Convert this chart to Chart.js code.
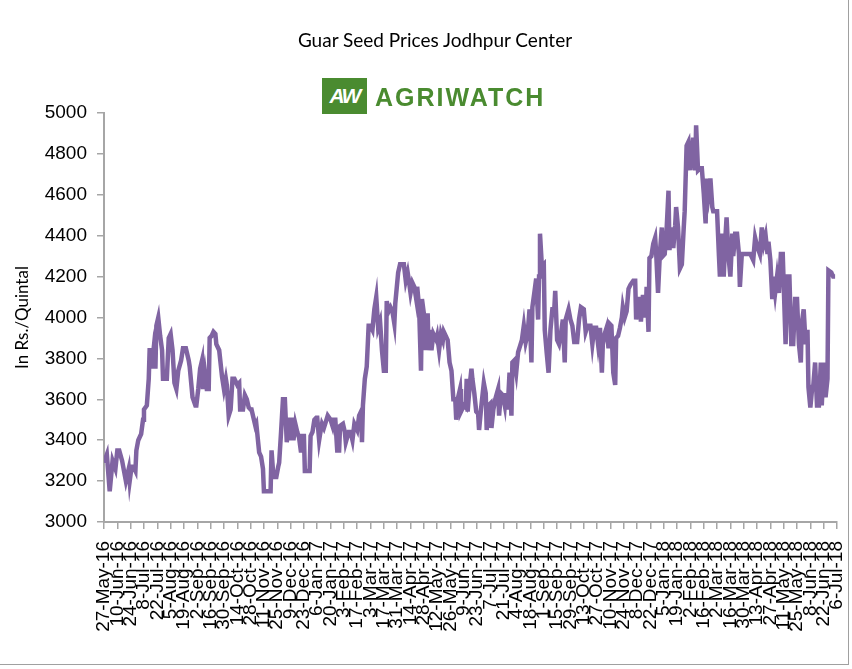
<!DOCTYPE html>
<html>
<head>
<meta charset="utf-8">
<title>Guar Seed Prices Jodhpur Center</title>
<script src="https://cdn.jsdelivr.net/npm/chart.js"></script>
<style>
  body { margin: 0; background: #fff; }
  #wrap { position: relative; width: 852px; height: 669px; }
  #frame { position: absolute; left: 0; top: 0; width: 848px; height: 664px; border-right: 1px solid #a0a0a0; border-bottom: 1px solid #a0a0a0; }
  #chart { position: absolute; left: 0; top: 0; }
  #title { position: absolute; left: 0; width: 870px; top: 28px; text-align: center; font: 19px Lato, sans-serif; color: #000; }
  #logo-box { position: absolute; left: 322px; top: 78px; width: 45px; height: 36px; background: #4a8b30; color: #fff;
    font: italic bold 21px "Liberation Sans", Arial, sans-serif; text-align: center; line-height: 36px; letter-spacing: -2px; }
  #logo-text { position: absolute; left: 375px; top: 83px; font: bold 25px "Liberation Sans", Arial, sans-serif; color: #4a8b30; letter-spacing: 2px; }
</style>
</head>
<body>
<div id="wrap">
  <div id="frame"></div>
  <canvas id="chart" width="852" height="669"></canvas>
  <div id="title">Guar Seed Prices Jodhpur Center</div>
  <div id="logo-box">AW</div>
  <div id="logo-text">AGRIWATCH</div>
</div>
<script>
// x positions are days counted from 27-May-16
const days = [
  0, 3, 6, 9, 12, 14, 16, 19, 21, 23, 26, 27, 29, 31, 33, 34, 36, 39, 41, 42,
  45, 47, 48, 50, 52, 54, 55, 57, 59, 61, 62, 66, 68, 70, 72, 74, 76, 78, 81, 83,
  86, 89, 90, 93, 96, 97, 99, 101, 103, 104, 106, 108, 110, 111, 113, 115, 117, 118, 121, 124,
  126, 128, 129, 131, 133, 135, 137, 140, 142, 143, 146, 148, 150, 152, 154, 155, 157, 159, 160, 163,
  165, 167, 168, 175, 176, 178, 181, 183, 184, 186, 188, 190, 192, 194, 196, 198, 199, 201, 203, 205,
  207, 208, 210, 211, 216, 217, 219, 221, 223, 224, 226, 227, 229, 231, 233, 235, 238, 240, 241, 243,
  245, 247, 248, 251, 253, 254, 257, 259, 261, 263, 266, 268, 270, 271, 272, 274, 276, 278, 280, 282,
  284, 286, 288, 290, 292, 294, 296, 297, 299, 301, 303, 305, 306, 309, 311, 315, 317, 319, 320, 322,
  324, 326, 328, 329, 331, 333, 334, 336, 338, 340, 341, 343, 344, 346, 349, 350, 352, 354, 356, 357,
  359, 361, 363, 365, 367, 369, 370, 372, 374, 375, 378, 380, 381, 382, 384, 386, 387, 389, 391, 393,
  394, 396, 399, 401, 402, 404, 406, 407, 409, 411, 414, 415, 417, 419, 421, 422, 424, 426, 428, 429,
  431, 433, 435, 437, 439, 441, 443, 445, 447, 449, 450, 452, 454, 456, 457, 458, 460, 462, 463, 465,
  467, 469, 471, 473, 474, 476, 478, 480, 482, 484, 485, 488, 490, 492, 494, 497, 499, 501, 504, 506,
  508, 511, 513, 515, 517, 519, 521, 523, 524, 526, 528, 530, 531, 533, 535, 537, 538, 540, 542, 544,
  545, 547, 549, 551, 553, 556, 558, 559, 561, 563, 564, 566, 567, 569, 570, 572, 573, 575, 577, 579,
  580, 582, 584, 586, 587, 589, 591, 593, 594, 596, 598, 600, 601, 603, 605, 607, 609, 610, 612, 614,
  616, 617, 618, 619, 621, 622, 624, 626, 628, 630, 632, 633, 635, 637, 639, 640, 644, 646, 647, 649,
  651, 653, 654, 656, 658, 660, 661, 663, 665, 667, 668, 670, 672, 675, 679, 682, 684, 686, 689, 691,
  693, 695, 697, 698, 700, 702, 703, 705, 707, 709, 711, 713, 716, 718, 720, 722, 724, 726, 728, 730,
  732, 733, 735, 737, 739, 740, 742, 744, 745, 747, 749, 751, 753, 754, 756, 758, 760, 761, 764, 766,
  768
];

const prices = [
  3290, 3330, 3150, 3300, 3260, 3350, 3350, 3300, 3250, 3200, 3260, 3200, 3270, 3270, 3250, 3350, 3400, 3430, 3500, 3550,
  3570, 3700, 3850, 3750, 3840, 3750, 3960, 4000, 3910, 3840, 3700, 3700, 3900, 3920, 3840, 3680, 3650, 3740, 3790, 3850,
  3850, 3790, 3760, 3610, 3570, 3570, 3650, 3750, 3790, 3650, 3730, 3650, 3650, 3900, 3910, 3930, 3920, 3870, 3840, 3710,
  3650, 3700, 3670, 3520, 3550, 3700, 3700, 3670, 3680, 3550, 3550, 3620, 3600, 3560, 3550, 3550, 3510, 3470, 3480, 3340,
  3320, 3260, 3150, 3150, 3350, 3220, 3220, 3270, 3290, 3440, 3600, 3600, 3390, 3510, 3400, 3510, 3400, 3480, 3440, 3410,
  3340, 3420, 3420, 3250, 3250, 3420, 3440, 3500, 3510, 3510, 3400, 3430, 3480, 3460, 3490, 3520, 3500, 3470, 3500, 3500,
  3350, 3350, 3470, 3480, 3440, 3390, 3440, 3440, 3400, 3480, 3450, 3520, 3540, 3390, 3570, 3700, 3760, 3960, 3960, 3940,
  4040, 4100, 3950, 3980, 3840, 3740, 3740, 4080, 4030, 4050, 4030, 3970, 4070, 4220, 4260, 4260, 4180, 4220, 4190, 4120,
  4170, 4150, 4090, 4150, 4050, 3740, 4090, 4020, 3840, 4020, 3840, 3940, 3840, 3920, 3890, 3910, 3840, 3920, 3890, 3930,
  3910, 3890, 3780, 3740, 3600, 3600, 3500, 3610, 3650, 3540, 3570, 3560, 3700, 3540, 3660, 3750, 3700, 3630, 3540, 3530,
  3450, 3550, 3680, 3630, 3450, 3570, 3580, 3460, 3550, 3600, 3650, 3520, 3630, 3620, 3570, 3630, 3550, 3730, 3520, 3780,
  3790, 3730, 3830, 3860, 3890, 3960, 3880, 3920, 4040, 3780, 4050, 4120, 4190, 3990, 4200, 4410, 4250, 4260, 3940, 3830,
  3730, 3940, 4040, 4040, 4130, 3890, 3870, 3920, 3990, 3780, 3990, 4040, 3990, 3960, 3880, 3880, 3990, 4050, 4040, 3930,
  3960, 3960, 3870, 3950, 3950, 3870, 3950, 3730, 3870, 3920, 3950, 3850, 3970, 3960, 3730, 3670, 3900, 3910, 3950, 4000,
  4050, 4000, 4030, 4140, 4160, 4180, 4180, 3990, 4090, 4090, 3980, 4100, 4100, 4000, 4150, 3930, 4290, 4300, 4360, 4390,
  4320, 4120, 4320, 4440, 4300, 4310, 4430, 4620, 4330, 4440, 4340, 4450, 4540, 4440, 4240, 4260, 4440, 4520, 4840, 4860,
  4720, 4860, 4810, 4880, 4720, 4940, 4720, 4730, 4730, 4610, 4460, 4680, 4600, 4680, 4540, 4520, 4520, 4300, 4200, 4410,
  4200, 4410, 4490, 4300, 4200, 4410, 4300, 4410, 4410, 4310, 4150, 4310, 4310, 4310, 4310, 4280, 4390, 4350, 4310, 4440,
  4360, 4400, 4310, 4370, 4280, 4090, 4200, 4120, 4200, 4120, 4310, 4310, 3870, 4200, 4200, 3870, 3870, 4090, 4090, 3870,
  3780, 3970, 4040, 3870, 3940, 3660, 3560, 3660, 3660, 3780, 3570, 3570, 3780, 3570, 3780, 3610, 3700, 4230, 4220, 4200,
  4200
];

// one label every 14 days
const tickLabels = [
  '27-May-16', '10-Jun-16', '24-Jun-16', '8-Jul-16', '22-Jul-16', '5-Aug-16', '19-Aug-16', '2-Sep-16',
  '16-Sep-16', '30-Sep-16', '14-Oct-16', '28-Oct-16', '11-Nov-16', '25-Nov-16', '9-Dec-16', '23-Dec-16',
  '6-Jan-17', '20-Jan-17', '3-Feb-17', '17-Feb-17', '3-Mar-17', '17-Mar-17', '31-Mar-17', '14-Apr-17',
  '28-Apr-17', '12-May-17', '26-May-17', '9-Jun-17', '23-Jun-17', '7-Jul-17', '21-Jul-17', '4-Aug-17',
  '18-Aug-17', '1-Sep-17', '15-Sep-17', '29-Sep-17', '13-Oct-17', '27-Oct-17', '10-Nov-17', '24-Nov-17',
  '8-Dec-17', '22-Dec-17', '5-Jan-18', '19-Jan-18', '2-Feb-18', '16-Feb-18', '2-Mar-18', '16-Mar-18',
  '30-Mar-18', '13-Apr-18', '27-Apr-18', '11-May-18', '25-May-18', '8-Jun-18', '22-Jun-18', '6-Jul-18'
];

const axisGrey = '#a6a6a6';
const points = days.map((d, i) => ({ x: d, y: prices[i] }));

new Chart(document.getElementById('chart').getContext('2d'), {
    type: 'line',
    data: {
        datasets: [{
            data: points,
            borderColor: '#8064a2',
            borderWidth: 4.5,
            pointRadius: 0,
            tension: 0,
            fill: false,
        }]
    },
    options: {
        responsive: false,
        animation: false,
        layout: { padding: { top: 113, right: 15, left: 0, bottom: 0 } },
        plugins: {
            legend: { display: false },
            tooltip: { enabled: false },
        },
        scales: {
            x: {
                type: 'linear',
                min: 0,
                max: (tickLabels.length - 1) * 14,
                afterBuildTicks: s => { s.ticks = tickLabels.map((_, i) => ({ value: i * 14 })); },
                afterFit: s => {
                    s.height = 669 - 522;
                    s.paddingLeft = 0;
                    s.paddingRight = 0;
                },
                ticks: {
                    autoSkip: false,
                    minRotation: 90,
                    maxRotation: 90,
                    padding: 12,
                    color: '#000',
                    font: { family: 'Liberation Sans', size: 19 },
                    callback: (v, i) => tickLabels[i],
                },
                grid: { drawOnChartArea: false, tickLength: 7, color: axisGrey, lineWidth: 1.5 },
                border: { color: axisGrey, width: 2 },
            },
            y: {
                min: 3000,
                max: 5000,
                afterFit: s => { s.width = 104; },
                ticks: {
                    stepSize: 200,
                    padding: 10,
                    color: '#000',
                    font: { family: 'Liberation Sans', size: 19 },
                    callback: v => String(v),
                },
                grid: { drawOnChartArea: false, tickLength: 7, color: axisGrey, lineWidth: 1.5 },
                border: { color: axisGrey, width: 2 },
                title: {
                    display: true,
                    text: 'In Rs./Quintal',
                    color: '#000',
                    font: { family: 'Lato', size: 17 },
                    padding: { top: 12, bottom: 0 },
                },
            }
        }
    }
});
</script>
</body>
</html>
